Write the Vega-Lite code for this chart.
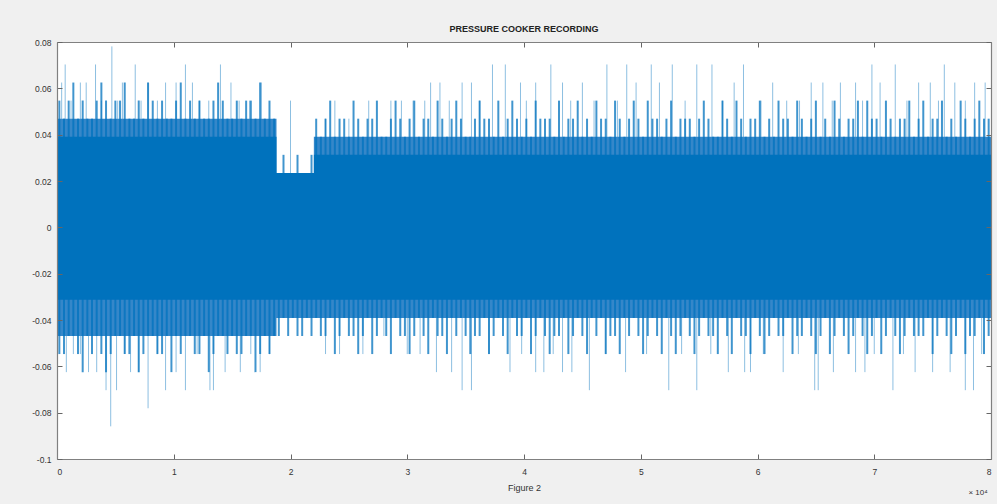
{
"$schema": "https://vega.github.io/schema/vega-lite/v6.json",
"width": 934, "height": 417,
"autosize": {"type": "none"},
"padding": {"left": 57, "top": 42, "right": 6, "bottom": 45},
"background": "#f0f0f0",
"view": {"fill": "white", "stroke": null},
"title": {"text": "PRESSURE COOKER RECORDING", "font": "Liberation Sans", "fontSize": 9, "fontWeight": "bold", "color": "#222222", "offset": 4, "anchor": "middle"},
"datasets": {
"env": [
{"x": 0, "hi": 0.0391, "lo": -0.0313, "dhi": 0.0469, "dlo": -0.0469},
{"x": 1.88, "hi": 0.0234, "lo": -0.0313, "dhi": 0.0234, "dlo": -0.0391},
{"x": 2.2, "hi": 0.0313, "lo": -0.0313, "dhi": 0.0391, "dlo": -0.0391},
{"x": 8, "hi": 0.0313, "lo": -0.0313, "dhi": 0.0391, "dlo": -0.0391}
],
"stripes": [
{"x":0.02,"h":0.0547,"l":-0.0547},{"x":0.06,"h":0.0469,"l":-0.0547},{"x":0.10,"h":0.0547,"l":-0.0469},{"x":0.14,"h":0.0625,"l":-0.0469},{"x":0.18,"h":0.0469,"l":-0.0547},{"x":0.22,"h":0.0547,"l":-0.0625},{"x":0.26,"h":0.0469,"l":-0.0469},{"x":0.30,"h":0.0469,"l":-0.0547},{"x":0.34,"h":0.0547,"l":-0.0469},{"x":0.38,"h":0.0625,"l":-0.0547},
{"x":0.42,"h":0.0547,"l":-0.0625},{"x":0.46,"h":0.0469,"l":-0.0547},{"x":0.50,"h":0.0547,"l":-0.0469},{"x":0.54,"h":0.0547,"l":-0.0469},{"x":0.58,"h":0.0625,"l":-0.0547},{"x":0.62,"h":0.0469,"l":-0.0547},{"x":0.66,"h":0.0469,"l":-0.0469},{"x":0.70,"h":0.0547,"l":-0.0625},{"x":0.74,"h":0.0469,"l":-0.0547},{"x":0.78,"h":0.0625,"l":-0.0469},
{"x":0.82,"h":0.0547,"l":-0.0469},{"x":0.86,"h":0.0469,"l":-0.0547},{"x":0.90,"h":0.0547,"l":-0.0547},{"x":0.94,"h":0.0469,"l":-0.0469},{"x":0.98,"h":0.0469,"l":-0.0625},{"x":1.02,"h":0.0547,"l":-0.0469},{"x":1.06,"h":0.0625,"l":-0.0547},{"x":1.10,"h":0.0469,"l":-0.0469},{"x":1.14,"h":0.0547,"l":-0.0469},{"x":1.18,"h":0.0469,"l":-0.0547},
{"x":1.22,"h":0.0547,"l":-0.0547},{"x":1.26,"h":0.0469,"l":-0.0469},{"x":1.30,"h":0.0469,"l":-0.0625},{"x":1.34,"h":0.0547,"l":-0.0547},{"x":1.38,"h":0.0625,"l":-0.0469},{"x":1.42,"h":0.0547,"l":-0.0469},{"x":1.46,"h":0.0469,"l":-0.0547},{"x":1.50,"h":0.0469,"l":-0.0469},{"x":1.54,"h":0.0547,"l":-0.0547},{"x":1.58,"h":0.0469,"l":-0.0547},
{"x":1.62,"h":0.0547,"l":-0.0469},{"x":1.66,"h":0.0547,"l":-0.0469},{"x":1.70,"h":0.0469,"l":-0.0625},{"x":1.74,"h":0.0625,"l":-0.0547},{"x":1.78,"h":0.0469,"l":-0.0469},{"x":1.82,"h":0.0547,"l":-0.0547},{"x":1.86,"h":0.0469,"l":-0.0469},
{"x":1.90,"h":0.0234,"l":-0.0469},{"x":1.94,"h":0.0313,"l":-0.0391},{"x":1.98,"h":0.0234,"l":-0.0469},{"x":2.02,"h":0.0234,"l":-0.0391},{"x":2.06,"h":0.0313,"l":-0.0469},{"x":2.10,"h":0.0234,"l":-0.0469},{"x":2.14,"h":0.0234,"l":-0.0391},{"x":2.18,"h":0.0313,"l":-0.0469},
{"x":2.22,"h":0.0469,"l":-0.0391},{"x":2.26,"h":0.0391,"l":-0.0469},{"x":2.30,"h":0.0469,"l":-0.0469},{"x":2.34,"h":0.0547,"l":-0.0391},{"x":2.38,"h":0.0391,"l":-0.0547},{"x":2.42,"h":0.0469,"l":-0.0469},{"x":2.46,"h":0.0469,"l":-0.0391},{"x":2.50,"h":0.0391,"l":-0.0469},{"x":2.54,"h":0.0547,"l":-0.0469},{"x":2.58,"h":0.0469,"l":-0.0547},
{"x":2.62,"h":0.0391,"l":-0.0469},{"x":2.66,"h":0.0469,"l":-0.0391},{"x":2.70,"h":0.0469,"l":-0.0547},{"x":2.74,"h":0.0547,"l":-0.0469},{"x":2.78,"h":0.0391,"l":-0.0391},{"x":2.82,"h":0.0391,"l":-0.0469},{"x":2.86,"h":0.0469,"l":-0.0547},{"x":2.90,"h":0.0547,"l":-0.0391},{"x":2.94,"h":0.0469,"l":-0.0469},{"x":2.98,"h":0.0391,"l":-0.0469},
{"x":3.02,"h":0.0469,"l":-0.0547},{"x":3.06,"h":0.0547,"l":-0.0469},{"x":3.10,"h":0.0391,"l":-0.0391},{"x":3.14,"h":0.0469,"l":-0.0469},{"x":3.18,"h":0.0469,"l":-0.0547},{"x":3.22,"h":0.0391,"l":-0.0391},{"x":3.26,"h":0.0547,"l":-0.0469},{"x":3.30,"h":0.0469,"l":-0.0469},{"x":3.34,"h":0.0391,"l":-0.0547},{"x":3.38,"h":0.0469,"l":-0.0391},
{"x":3.42,"h":0.0547,"l":-0.0469},{"x":3.46,"h":0.0469,"l":-0.0391},{"x":3.50,"h":0.0391,"l":-0.0469},{"x":3.54,"h":0.0391,"l":-0.0547},{"x":3.58,"h":0.0469,"l":-0.0469},{"x":3.62,"h":0.0547,"l":-0.0469},{"x":3.66,"h":0.0469,"l":-0.0391},{"x":3.70,"h":0.0469,"l":-0.0547},{"x":3.74,"h":0.0391,"l":-0.0469},{"x":3.78,"h":0.0547,"l":-0.0391},
{"x":3.82,"h":0.0391,"l":-0.0469},{"x":3.86,"h":0.0469,"l":-0.0547},{"x":3.90,"h":0.0547,"l":-0.0391},{"x":3.94,"h":0.0469,"l":-0.0469},{"x":3.98,"h":0.0391,"l":-0.0469},{"x":4.02,"h":0.0469,"l":-0.0391},{"x":4.06,"h":0.0391,"l":-0.0547},{"x":4.10,"h":0.0547,"l":-0.0469},{"x":4.14,"h":0.0469,"l":-0.0391},{"x":4.18,"h":0.0469,"l":-0.0469},
{"x":4.22,"h":0.0469,"l":-0.0547},{"x":4.26,"h":0.0391,"l":-0.0469},{"x":4.30,"h":0.0547,"l":-0.0469},{"x":4.34,"h":0.0391,"l":-0.0391},{"x":4.38,"h":0.0469,"l":-0.0547},{"x":4.42,"h":0.0469,"l":-0.0469},{"x":4.46,"h":0.0547,"l":-0.0391},{"x":4.50,"h":0.0391,"l":-0.0469},{"x":4.54,"h":0.0469,"l":-0.0547},{"x":4.58,"h":0.0391,"l":-0.0391},
{"x":4.62,"h":0.0547,"l":-0.0469},{"x":4.66,"h":0.0469,"l":-0.0391},{"x":4.70,"h":0.0469,"l":-0.0547},{"x":4.74,"h":0.0391,"l":-0.0469},{"x":4.78,"h":0.0547,"l":-0.0469},{"x":4.82,"h":0.0469,"l":-0.0547},{"x":4.86,"h":0.0391,"l":-0.0391},{"x":4.90,"h":0.0469,"l":-0.0469},{"x":4.94,"h":0.0547,"l":-0.0391},{"x":4.98,"h":0.0469,"l":-0.0469},
{"x":5.02,"h":0.0391,"l":-0.0547},{"x":5.06,"h":0.0547,"l":-0.0469},{"x":5.10,"h":0.0469,"l":-0.0391},{"x":5.14,"h":0.0469,"l":-0.0469},{"x":5.18,"h":0.0391,"l":-0.0547},{"x":5.22,"h":0.0469,"l":-0.0391},{"x":5.26,"h":0.0547,"l":-0.0469},{"x":5.30,"h":0.0391,"l":-0.0547},{"x":5.34,"h":0.0469,"l":-0.0469},{"x":5.38,"h":0.0469,"l":-0.0391},
{"x":5.42,"h":0.0469,"l":-0.0469},{"x":5.46,"h":0.0391,"l":-0.0547},{"x":5.50,"h":0.0469,"l":-0.0469},{"x":5.54,"h":0.0547,"l":-0.0391},{"x":5.58,"h":0.0469,"l":-0.0469},{"x":5.62,"h":0.0391,"l":-0.0469},{"x":5.66,"h":0.0391,"l":-0.0547},{"x":5.70,"h":0.0547,"l":-0.0391},{"x":5.74,"h":0.0469,"l":-0.0469},{"x":5.78,"h":0.0391,"l":-0.0547},
{"x":5.82,"h":0.0547,"l":-0.0391},{"x":5.86,"h":0.0469,"l":-0.0469},{"x":5.90,"h":0.0391,"l":-0.0469},{"x":5.94,"h":0.0469,"l":-0.0547},{"x":5.98,"h":0.0469,"l":-0.0391},{"x":6.02,"h":0.0547,"l":-0.0469},{"x":6.06,"h":0.0391,"l":-0.0547},{"x":6.10,"h":0.0469,"l":-0.0469},{"x":6.14,"h":0.0391,"l":-0.0391},{"x":6.18,"h":0.0547,"l":-0.0469},
{"x":6.22,"h":0.0469,"l":-0.0469},{"x":6.26,"h":0.0469,"l":-0.0391},{"x":6.30,"h":0.0391,"l":-0.0547},{"x":6.34,"h":0.0547,"l":-0.0469},{"x":6.38,"h":0.0469,"l":-0.0469},{"x":6.42,"h":0.0391,"l":-0.0391},{"x":6.46,"h":0.0469,"l":-0.0469},{"x":6.50,"h":0.0547,"l":-0.0547},{"x":6.54,"h":0.0391,"l":-0.0469},{"x":6.58,"h":0.0469,"l":-0.0391},
{"x":6.62,"h":0.0391,"l":-0.0547},{"x":6.66,"h":0.0547,"l":-0.0469},{"x":6.70,"h":0.0469,"l":-0.0391},{"x":6.74,"h":0.0391,"l":-0.0469},{"x":6.78,"h":0.0469,"l":-0.0547},{"x":6.82,"h":0.0469,"l":-0.0469},{"x":6.86,"h":0.0547,"l":-0.0391},{"x":6.90,"h":0.0391,"l":-0.0469},{"x":6.94,"h":0.0547,"l":-0.0547},{"x":6.98,"h":0.0469,"l":-0.0469},
{"x":7.02,"h":0.0469,"l":-0.0391},{"x":7.06,"h":0.0391,"l":-0.0547},{"x":7.10,"h":0.0547,"l":-0.0469},{"x":7.14,"h":0.0469,"l":-0.0391},{"x":7.18,"h":0.0391,"l":-0.0469},{"x":7.22,"h":0.0469,"l":-0.0547},{"x":7.26,"h":0.0469,"l":-0.0469},{"x":7.30,"h":0.0547,"l":-0.0391},{"x":7.34,"h":0.0391,"l":-0.0469},{"x":7.38,"h":0.0469,"l":-0.0469},
{"x":7.42,"h":0.0547,"l":-0.0469},{"x":7.46,"h":0.0391,"l":-0.0391},{"x":7.50,"h":0.0469,"l":-0.0547},{"x":7.54,"h":0.0469,"l":-0.0469},{"x":7.58,"h":0.0547,"l":-0.0391},{"x":7.62,"h":0.0391,"l":-0.0469},{"x":7.66,"h":0.0469,"l":-0.0547},{"x":7.70,"h":0.0391,"l":-0.0469},{"x":7.74,"h":0.0547,"l":-0.0391},{"x":7.78,"h":0.0469,"l":-0.0547},
{"x":7.82,"h":0.0391,"l":-0.0469},{"x":7.86,"h":0.0469,"l":-0.0469},{"x":7.90,"h":0.0547,"l":-0.0391},{"x":7.94,"h":0.0469,"l":-0.0547},{"x":7.98,"h":0.0469,"l":-0.0469}
],
"spikes": [
{"x":0.04,"v":0.0625},{"x":0.07,"v":0.0703},{"x":0.2,"v":0.0625},{"x":0.33,"v":0.0703},{"x":0.38,"v":0.0547},{"x":0.47,"v":0.0781},{"x":0.56,"v":0.0625},{"x":0.67,"v":0.0703},{"x":0.78,"v":0.0625},{"x":0.93,"v":0.0625},{"x":1.1,"v":0.0703},{"x":1.22,"v":0.0547},{"x":1.4,"v":0.0703},{"x":1.49,"v":0.0625},{"x":1.65,"v":0.0547},{"x":2.0,"v":0.0547},{"x":2.3,"v":0.0469},{"x":2.38,"v":0.0547},{"x":2.67,"v":0.0547},{"x":3.15,"v":0.0547},{"x":3.2,"v":0.0625},{"x":3.28,"v":0.0625},{"x":3.47,"v":0.0625},{"x":3.55,"v":0.0625},{"x":3.73,"v":0.0703},{"x":3.84,"v":0.0703},{"x":3.97,"v":0.0625},{"x":4.1,"v":0.0625},{"x":4.23,"v":0.0703},{"x":4.33,"v":0.0625},{"x":4.5,"v":0.0625},{"x":4.71,"v":0.0703},{"x":4.88,"v":0.0703},{"x":5.09,"v":0.0703},{"x":5.16,"v":0.0625},{"x":5.27,"v":0.0703},{"x":5.48,"v":0.0703},{"x":5.61,"v":0.0703},{"x":5.8,"v":0.0625},{"x":5.88,"v":0.0703},{"x":6.13,"v":0.0625},{"x":6.36,"v":0.0547},{"x":6.56,"v":0.0625},{"x":6.71,"v":0.0625},{"x":6.84,"v":0.0625},{"x":6.98,"v":0.0703},{"x":7.05,"v":0.0625},{"x":7.18,"v":0.0703},{"x":7.48,"v":0.0625},{"x":7.6,"v":0.0703},{"x":7.69,"v":0.0625},{"x":7.86,"v":0.0625},
{"x":0.12,"v":0.0547},{"x":0.25,"v":0.0625},{"x":0.52,"v":0.0547},{"x":0.72,"v":0.0547},{"x":0.86,"v":0.0547},{"x":1.02,"v":0.0625},{"x":1.16,"v":0.0625},{"x":1.3,"v":0.0547},{"x":1.56,"v":0.0547},{"x":1.75,"v":0.0625},{"x":2.5,"v":0.0469},{"x":2.86,"v":0.0547},{"x":2.95,"v":0.0547},{"x":3.05,"v":0.0547},{"x":3.36,"v":0.0547},{"x":3.62,"v":0.0547},{"x":4.02,"v":0.0547},{"x":4.4,"v":0.0547},{"x":4.6,"v":0.0547},{"x":4.8,"v":0.0547},{"x":4.96,"v":0.0625},{"x":5.38,"v":0.0547},{"x":5.7,"v":0.0547},{"x":6.03,"v":0.0547},{"x":6.25,"v":0.0547},{"x":6.46,"v":0.0625},{"x":6.64,"v":0.0547},{"x":6.9,"v":0.0547},{"x":7.28,"v":0.0547},{"x":7.38,"v":0.0625},{"x":7.55,"v":0.0547},{"x":7.78,"v":0.0547},{"x":7.95,"v":0.0625},
{"x":0.08,"v":-0.0625},{"x":0.2,"v":-0.0547},{"x":0.27,"v":-0.0625},{"x":0.42,"v":-0.0703},{"x":0.46,"v":-0.0859},{"x":0.51,"v":-0.0703},{"x":0.63,"v":-0.0625},{"x":0.78,"v":-0.0781},{"x":0.93,"v":-0.0703},{"x":1.1,"v":-0.0703},{"x":1.31,"v":-0.0703},{"x":1.34,"v":-0.0703},{"x":1.57,"v":-0.0625},{"x":1.74,"v":-0.0625},{"x":1.82,"v":-0.0547},{"x":2.42,"v":-0.0547},{"x":3.11,"v":-0.0547},{"x":3.25,"v":-0.0625},{"x":3.38,"v":-0.0625},{"x":3.47,"v":-0.0703},{"x":3.55,"v":-0.0703},{"x":3.88,"v":-0.0625},{"x":4.1,"v":-0.0625},{"x":4.17,"v":-0.0625},{"x":4.33,"v":-0.0625},{"x":4.41,"v":-0.0625},{"x":4.56,"v":-0.0703},{"x":4.87,"v":-0.0625},{"x":5.24,"v":-0.0703},{"x":5.48,"v":-0.0703},{"x":5.89,"v":-0.0625},{"x":5.94,"v":-0.0625},{"x":6.22,"v":-0.0625},{"x":6.49,"v":-0.0703},{"x":6.52,"v":-0.0703},{"x":6.84,"v":-0.0625},{"x":6.92,"v":-0.0625},{"x":7.16,"v":-0.0703},{"x":7.35,"v":-0.0625},{"x":7.78,"v":-0.0703},{"x":7.85,"v":-0.0703},
{"x":0.14,"v":-0.0547},{"x":0.34,"v":-0.0625},{"x":0.58,"v":-0.0547},{"x":0.7,"v":-0.0625},{"x":0.86,"v":-0.0547},{"x":1.02,"v":-0.0625},{"x":1.2,"v":-0.0547},{"x":1.44,"v":-0.0625},{"x":1.66,"v":-0.0547},{"x":2.3,"v":-0.0547},{"x":2.62,"v":-0.0547},{"x":2.8,"v":-0.0469},{"x":3.0,"v":-0.0547},{"x":3.7,"v":-0.0547},{"x":3.98,"v":-0.0547},{"x":4.25,"v":-0.0547},{"x":4.7,"v":-0.0547},{"x":5.05,"v":-0.0547},{"x":5.35,"v":-0.0547},{"x":5.6,"v":-0.0547},{"x":5.75,"v":-0.0625},{"x":6.05,"v":-0.0547},{"x":6.35,"v":-0.0547},{"x":6.65,"v":-0.0625},{"x":7.0,"v":-0.0547},{"x":7.25,"v":-0.0547},{"x":7.5,"v":-0.0625},{"x":7.65,"v":-0.0625},{"x":7.92,"v":-0.0547}
]
},
"resolve": {"axis": {"x": "independent", "y": "independent"}},
"layer": [
{
"data": {"name": "spikes"},
"mark": {"type": "rule", "color": "#0072BD", "opacity": 0.45, "strokeWidth": 1},
"encoding": {
"x": {"field": "x", "type": "quantitative", "scale": {"domain": [0, 8], "nice": false, "zero": false}, "axis": null},
"y": {"field": "v", "type": "quantitative", "scale": {"domain": [-0.1, 0.08], "nice": false, "zero": false}, "axis": null},
"y2": {"datum": 0}
}
},
{
"data": {"name": "env"},
"mark": {"type": "area", "interpolate": "step-after", "color": "#3587c9", "opacity": 1},
"encoding": {
"x": {"field": "x", "type": "quantitative", "axis": {"orient": "top", "values": [0,1,2,3,4,5,6,7,8], "labels": false, "grid": false, "tickSize": -5, "tickColor": "#666666", "domainColor": "#808080", "domainWidth": 1.2, "title": null, "zindex": 1}},
"y": {"field": "dhi", "type": "quantitative", "axis": {"orient": "right", "values": [-0.1,-0.08,-0.06,-0.04,-0.02,0,0.02,0.04,0.06,0.08], "labels": false, "grid": false, "tickSize": -5, "tickColor": "#666666", "domainColor": "#808080", "domainWidth": 1.2, "title": null, "zindex": 1}},
"y2": {"field": "dlo"}
}
},
{
"data": {"name": "stripes"},
"mark": {"type": "rule", "color": "#0072BD", "strokeWidth": 2, "opacity": 0.75},
"encoding": {
"x": {"field": "x", "type": "quantitative",
"axis": {"orient": "bottom", "values": [0,1,2,3,4,5,6,7,8], "format": "d", "grid": false, "tickSize": -5, "labelPadding": 13, "tickColor": "#666666", "domainColor": "#808080", "domainWidth": 1.2, "labelFont": "Liberation Sans", "labelFontSize": 8.5, "labelColor": "#333333", "title": "Figure 2", "titleFont": "Liberation Sans", "titleFontSize": 9, "titleFontWeight": "normal", "titleColor": "#333333", "titlePadding": 8, "zindex": 1}},
"y": {"field": "h", "type": "quantitative",
"axis": {"orient": "left", "values": [-0.1,-0.08,-0.06,-0.04,-0.02,0,0.02,0.04,0.06,0.08], "labelExpr": "datum.value == 0 ? '0' : toString(round(datum.value*100)/100)", "grid": false, "tickSize": -5, "labelPadding": 11, "tickColor": "#666666", "domainColor": "#808080", "domainWidth": 1.2, "labelFont": "Liberation Sans", "labelFontSize": 8.5, "labelColor": "#333333", "title": null, "zindex": 1}},
"y2": {"field": "l"}
}
},
{
"data": {"name": "env"},
"mark": {"type": "area", "interpolate": "step-after", "color": "#0072BD"},
"encoding": {
"x": {"field": "x", "type": "quantitative", "axis": null},
"y": {"field": "hi", "type": "quantitative", "axis": null},
"y2": {"field": "lo"}
}
},
{
"data": {"values": [{"t": "× 10⁴"}]},
"mark": {"type": "text", "font": "Liberation Sans", "fontSize": 8, "color": "#333333", "align": "center", "baseline": "middle", "dx": -13, "dy": 34},
"encoding": {
"x": {"datum": 8, "type": "quantitative", "axis": null},
"y": {"datum": -0.1, "type": "quantitative", "axis": null},
"text": {"field": "t", "type": "nominal"}
}
}
]
}
